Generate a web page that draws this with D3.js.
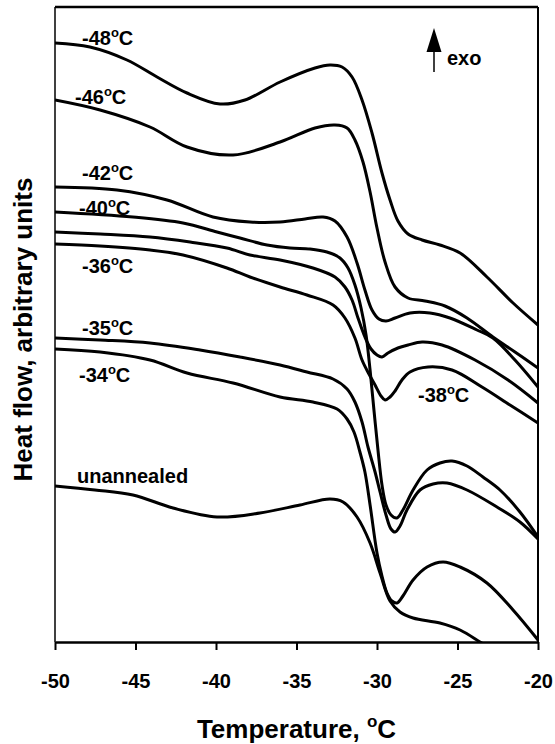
<!DOCTYPE html>
<html>
<head>
<meta charset="utf-8">
<script src="https://cdn.jsdelivr.net/npm/d3@7"></script>
<style>
  body { margin: 0; background: #fff; }
  svg { display: block; }
  text { font-family: "Liberation Sans", Arial, sans-serif; font-weight: bold; fill: #000; }
</style>
</head>
<body>
<div class="chart"></div>
<script>
// DSC traces, [temperature (C), heat flow (arbitrary units)]
var s48 = [[-50,599],[-47.83,595],[-45.53,582],[-43.66,565],[-41.8,549],[-39.75,538],[-38.2,542],[-36.02,560],
  [-33.85,574],[-32.92,577],[-32.17,575],[-31.55,565],[-30.93,542],[-30.31,509],[-29.69,469],[-29.19,442],
  [-28.7,421],[-28.07,408],[-27.2,402],[-26.09,397],[-24.84,389],[-23.17,365],[-21.55,339],[-20,317]];
var s46 = [[-50,542],[-47.2,532],[-44.1,515],[-41.8,495],[-38.94,487],[-36.02,500],[-33.85,514],[-32.61,517],
  [-31.86,514],[-31.37,502],[-30.87,480],[-30.43,450],[-30,414],[-29.5,380],[-28.88,355],[-28.07,344],
  [-27.02,341],[-25.78,336],[-24.41,324],[-22.8,305],[-21.43,290],[-20,274]];
var s42 = [[-50,455],[-46.15,452],[-43.04,442],[-40.19,425],[-37.89,420],[-36.02,420],[-34.47,423],[-33.35,425],
  [-32.61,421],[-31.86,405],[-31.24,379],[-30.75,352],[-30.31,332],[-29.88,323],[-29.44,321],[-28.88,324],
  [-27.95,329],[-26.71,329],[-25.47,324],[-23.79,312],[-22.8,304],[-21.43,282],[-20,255]];
var s40 = [[-50,430],[-45.16,425],[-42.05,419],[-39.94,410],[-38.51,404],[-36.83,397],[-35.4,394],[-34.16,393],
  [-33.11,390],[-32.3,384],[-31.8,374],[-31.37,357],[-30.99,334],[-30.68,307],[-30.43,272],[-30.19,232],
  [-29.94,192],[-29.69,157],[-29.44,137],[-29.13,127],[-28.76,124],[-28.39,132],[-27.76,152],[-26.89,172],
  [-26.09,179],[-25.34,181],[-24.41,176],[-23.42,165],[-22.36,152],[-21.12,130],[-20,105]];
var s38 = [[-50,410],[-47.2,408],[-44.1,405],[-41.61,400],[-39.32,394],[-37.89,387],[-36.02,382],[-33.98,374],
  [-32.61,365],[-31.99,355],[-31.55,342],[-31.18,324],[-30.75,305],[-30.37,293],[-30,287],[-29.69,285],
  [-29.32,289],[-28.7,294],[-28.07,297],[-27.2,300],[-25.96,297],[-23.91,282],[-21.86,262],[-20,239]];
var s36 = [[-50,398],[-47.2,396],[-44.1,392],[-42.05,387],[-39.32,374],[-37.89,365],[-36.02,355],[-34.35,347],
  [-32.73,337],[-31.99,324],[-31.37,304],[-30.93,282],[-30.5,268],[-30.12,257],[-29.75,246],[-29.5,242],
  [-29.19,245],[-28.88,251],[-28.45,262],[-27.95,270],[-26.83,275],[-25.34,272],[-23.48,255],[-21.74,237],[-20,219]];
var s35 = [[-50,304],[-47.2,302],[-44.1,299],[-40.99,292],[-38.51,285],[-36.02,277],[-34.35,270],[-32.73,263],
  [-31.86,253],[-31.37,240],[-30.93,220],[-30.56,195],[-30.12,170],[-29.81,150],[-29.44,127],[-29.13,113],
  [-28.88,110],[-28.57,116],[-28.14,132],[-27.33,152],[-26.52,158],[-25.65,159],[-24.41,152],[-22.55,135],
  [-21.12,120],[-20,103]];
var s34 = [[-50,293],[-47.2,290],[-44.1,282],[-41.8,269],[-38.94,259],[-36.02,245],[-33.98,240],[-32.48,233],
  [-31.86,223],[-31.43,210],[-31.06,190],[-30.75,170],[-30.43,137],[-30,89],[-29.69,66],[-29.38,49],
  [-29.07,41],[-28.76,39],[-28.39,46],[-27.76,62],[-26.89,75],[-25.9,80],[-24.84,75],[-23.17,59],[-21.55,32],[-20,2]];
var sUn = [[-50,156],[-47.52,152],[-45.16,147],[-42.67,134],[-39.94,125],[-37.27,129],[-34.78,137],[-32.92,143],
  [-32.11,140],[-31.24,125],[-30.43,99],[-29.81,69],[-29.19,41],[-28.57,30],[-27.76,24],[-26.09,19],
  [-24.84,12],[-23.6,0],[-23,-6]];

var seriesNames = ["-48", "-46", "-42", "-40", "-38", "-36", "-35", "-34", "unannealed"];
var series = [s48, s46, s42, s40, s38, s36, s35, s34, sUn];
var xTicks = [-50, -45, -40, -35, -30, -25, -20];

var svgWidth = 555;
var svgHeight = 744;

var margin = {
    top: 7,
    right: 17,
    bottom: 102,
    left: 55
};

var width = svgWidth - margin.left - margin.right;
var height = svgHeight - margin.top - margin.bottom;

var svg = d3
    .select(".chart")
    .append("svg")
    .attr("width", svgWidth)
    .attr("height", svgHeight);

var chartGroup = svg.append("g")
    .attr("transform", `translate(${margin.left}, ${margin.top})`);

var xLinearScale = d3.scaleLinear()
    .domain([-50, -20])
    .range([0, width]);

var yLinearScale = d3.scaleLinear()
    .domain([0, height])
    .range([height, 0]);

chartGroup.append("clipPath")
    .attr("id", "plotClip")
    .append("rect")
    .attr("width", width)
    .attr("height", height);

var line = d3.line()
    .x(d => xLinearScale(d[0]))
    .y(d => yLinearScale(d[1]))
    .curve(d3.curveCatmullRom.alpha(0.5));

chartGroup.append("g")
    .attr("clip-path", "url(#plotClip)")
    .selectAll("path")
    .data(series)
    .enter()
    .append("path")
    .attr("d", line)
    .attr("fill", "none")
    .attr("stroke", "#000")
    .attr("stroke-width", 3)
    .attr("stroke-linejoin", "round");

// frame
chartGroup.append("line").attr("x1", 0).attr("x2", width).attr("y1", 0).attr("y2", 0)
    .attr("stroke", "#000").attr("stroke-width", 2.5);
chartGroup.append("line").attr("x1", width).attr("x2", width).attr("y1", 0).attr("y2", height)
    .attr("stroke", "#000").attr("stroke-width", 2);
chartGroup.append("line").attr("x1", 0).attr("x2", 0).attr("y1", 0).attr("y2", height)
    .attr("stroke", "#000").attr("stroke-width", 1.5);

var bottomAxis = d3.axisBottom(xLinearScale)
    .tickValues(xTicks)
    .tickFormat(d => String(d))
    .tickSize(8)
    .tickSizeOuter(0)
    .tickPadding(24);

var xAxis = chartGroup.append("g")
    .attr("transform", `translate(0, ${height})`)
    .call(bottomAxis);
xAxis.select(".domain").attr("stroke-width", 2.5);
xAxis.selectAll(".tick line").attr("stroke-width", 2);
xAxis.selectAll(".tick text")
    .attr("font-size", 20)
    .attr("font-family", "Liberation Sans, Arial, sans-serif")
    .attr("font-weight", "bold");

// axis titles
var xTitle = chartGroup.append("text")
    .attr("x", width / 2)
    .attr("y", height + 96)
    .attr("text-anchor", "middle")
    .attr("font-size", 26);
xTitle.append("tspan").text("Temperature, ");
xTitle.append("tspan").attr("font-size", 17).attr("dy", -11).text("o");
xTitle.append("tspan").attr("dy", 11).text("C");

chartGroup.append("text")
    .attr("transform", `translate(${32 - margin.left}, ${height / 2 + 5}) rotate(-90)`)
    .attr("text-anchor", "middle")
    .attr("font-size", 26)
    .text("Heat flow, arbitrary units");

// curve labels
var labelPos = [[27, 38], [20, 97], [27, 173], [24, 208], [363, 395], [27, 266], [27, 328], [24, 375], [22, 476]];
seriesNames.forEach(function(name, i) {
    var t = chartGroup.append("text")
        .attr("x", labelPos[i][0])
        .attr("y", labelPos[i][1])
        .attr("font-size", 20);
    if (name === "unannealed") {
        t.text(name);
    } else {
        t.append("tspan").text(name);
        t.append("tspan").attr("font-size", 13).attr("dy", -8).text("o");
        t.append("tspan").attr("dy", 8).text("C");
    }
});

// exo arrow
chartGroup.append("line")
    .attr("x1", 379).attr("x2", 379).attr("y1", 40).attr("y2", 65)
    .attr("stroke", "#000").attr("stroke-width", 1.5);
chartGroup.append("path")
    .attr("d", "M379,21 L386.5,45 L371.5,45 Z")
    .attr("fill", "#000");
chartGroup.append("text")
    .attr("x", 392)
    .attr("y", 58)
    .attr("font-size", 20)
    .text("exo");
</script>
</body>
</html>
